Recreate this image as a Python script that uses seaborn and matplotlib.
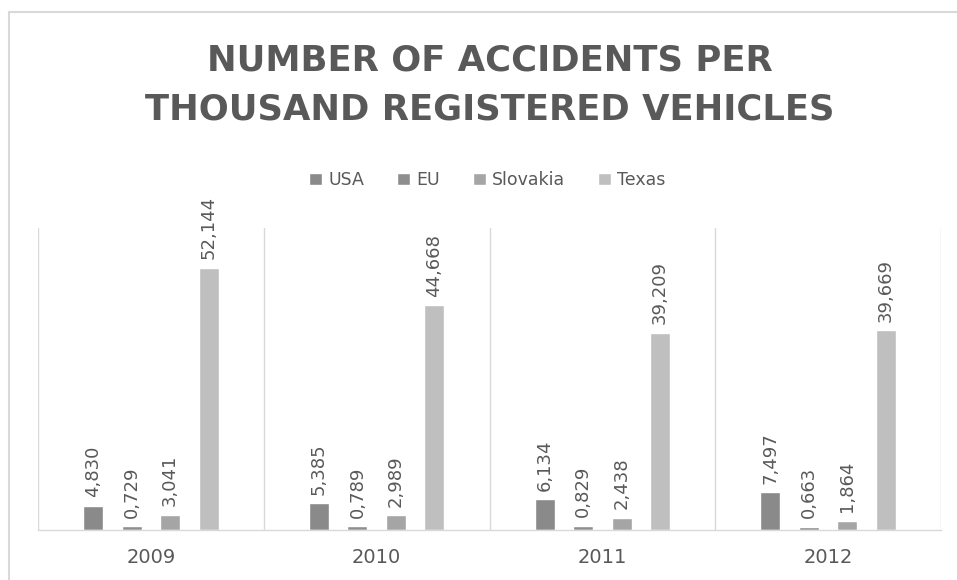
import matplotlib
matplotlib.use("Agg")
import matplotlib.pyplot as plt
import seaborn as sns
import pandas as pd
from matplotlib.patches import Rectangle

years = ["2009", "2010", "2011", "2012"]
countries = ["USA", "EU", "Slovakia", "Texas"]
usa = [4.830, 5.385, 6.134, 7.497]
eu = [0.729, 0.789, 0.829, 0.663]
slovakia = [3.041, 2.989, 2.438, 1.864]
texas = [52.144, 44.668, 39.209, 39.669]
title = "NUMBER OF ACCIDENTS PER\nTHOUSAND REGISTERED VEHICLES"

palette = ["#8a8a8a", "#8e8e8e", "#a5a5a5", "#bfbfbf"]
text_color = "#595959"
grid_color = "#d9d9d9"

rows = []
for c, vals in zip(countries, [usa, eu, slovakia, texas]):
    for y, v in zip(years, vals):
        rows.append({"year": y, "country": c, "value": v})
df = pd.DataFrame(rows)

sns.set_style("white")
plt.rcParams["font.family"] = ["DejaVu Sans"]

fig = plt.figure(figsize=(9.57, 5.80), dpi=100)
ax = fig.add_axes([38/957, 50/580, (941-38)/957, (530-228)/580])

sns.barplot(data=df, x="year", y="value", hue="country", order=years,
            hue_order=countries, palette=palette, width=0.682, gap=0.48,
            ax=ax, saturation=1, legend=True, errorbar=None)

ax.set_ylim(0, 60)
ax.set_xlim(-0.5, 3.5)
ax.set_yticks([])
ax.set_xlabel("")
ax.set_ylabel("")
ax.set_xticks(range(len(years)))
ax.set_xticklabels(years, fontsize=14, color=text_color)
ax.tick_params(axis="x", length=0, pad=13)
ax.set_xticks([-0.5, 0.5, 1.5, 2.5, 3.5], minor=True)
ax.tick_params(axis="x", which="minor", length=0)
ax.grid(False)
ax.xaxis.grid(True, which="minor", color=grid_color, linewidth=1)
for s in ["top", "left", "right"]:
    ax.spines[s].set_visible(False)
ax.spines["bottom"].set_color(grid_color)
ax.spines["bottom"].set_linewidth(1)

for container in ax.containers:
    labels = [f"{b.get_height():.3f}".replace(".", ",") for b in container]
    ax.bar_label(container, labels=labels, rotation=90, padding=6,
                 fontsize=13, color=text_color)

handles, labs = ax.get_legend_handles_labels()
ax.get_legend().remove()
fig.legend(handles, labs, loc="center", bbox_to_anchor=(0.509, 1 - 180/580),
           ncol=4, frameon=False, fontsize=12.5, labelcolor=text_color,
           handlelength=0.75, handleheight=0.75, handletextpad=0.35,
           columnspacing=1.9)

fig.text(0.512, 1 - 85/580, title, ha="center", va="center", fontsize=25.5,
         fontweight="bold", color=text_color, linespacing=1.55)

fig.patches.append(Rectangle((9/957, -0.2), 2.0, 1 - 12/580 + 0.2,
                             transform=fig.transFigure, fill=False,
                             edgecolor=grid_color, linewidth=1.5))

fig.savefig("out.png", dpi=100)
